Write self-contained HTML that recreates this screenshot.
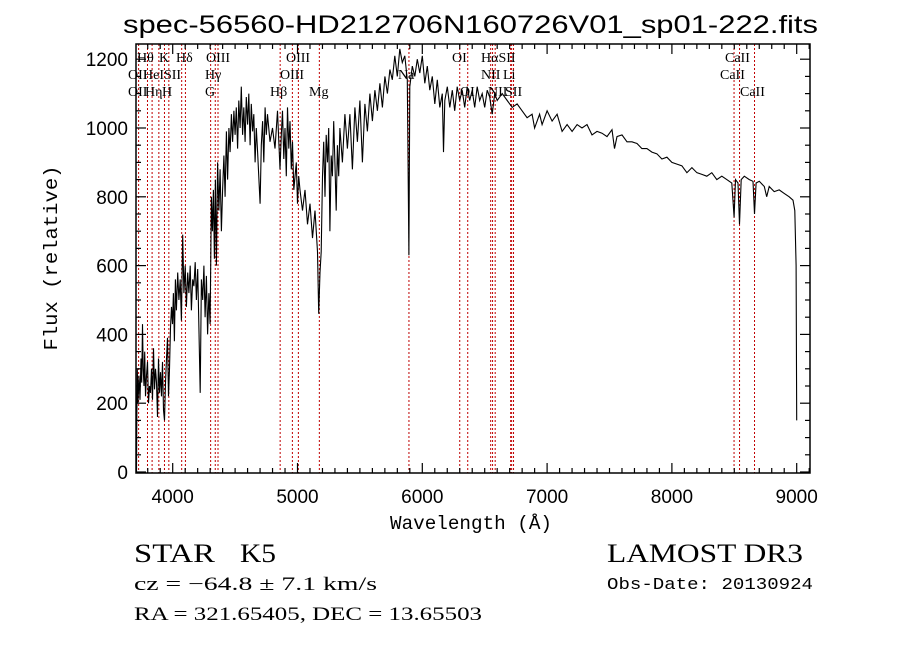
<!DOCTYPE html>
<html><head><meta charset="utf-8"><style>
body{margin:0;background:#fff}
svg{display:block}
</style></head><body>
<svg id="chart" width="900" height="649" viewBox="0 0 900 649" xmlns="http://www.w3.org/2000/svg">
<rect width="900" height="649" fill="#fff"/>
<text x="123" y="33" font-family="Liberation Sans, sans-serif" font-size="25" textLength="695" lengthAdjust="spacingAndGlyphs">spec-56560-HD212706N160726V01_sp01-222.fits</text>
<g id="lines"></g>
<g id="ticks"></g>
<path id="spec" fill="none" stroke="#000" stroke-width="1.1"/>
<rect x="136" y="44" width="674" height="429" fill="none" stroke="#000" stroke-width="1.5"/>
<text transform="translate(57,258) rotate(-90)" text-anchor="middle" font-family="Liberation Mono, monospace" font-size="19" textLength="185" lengthAdjust="spacingAndGlyphs">Flux (relative)</text>
<text x="390" y="529" font-family="Liberation Mono, monospace" font-size="19" textLength="162" lengthAdjust="spacingAndGlyphs">Wavelength (Å)</text>
<text x="134" y="562" font-family="Liberation Serif, serif" font-size="26" textLength="81" lengthAdjust="spacingAndGlyphs">STAR</text>
<text x="240" y="562" font-family="Liberation Serif, serif" font-size="26" textLength="36" lengthAdjust="spacingAndGlyphs">K5</text>
<text x="134" y="590" font-family="Liberation Serif, serif" font-size="19" textLength="243" lengthAdjust="spacingAndGlyphs">cz = −64.8 ± 7.1 km/s</text>
<text x="134" y="620" font-family="Liberation Serif, serif" font-size="19" textLength="348" lengthAdjust="spacingAndGlyphs">RA = 321.65405, DEC =  13.65503</text>
<text x="607" y="562" font-family="Liberation Serif, serif" font-size="26" textLength="196" lengthAdjust="spacingAndGlyphs">LAMOST DR3</text>
<text x="607" y="589" font-family="Liberation Mono, monospace" font-size="17" textLength="206" lengthAdjust="spacingAndGlyphs">Obs-Date: 20130924</text>
</svg>
<script>
const wave=[3710,3712,3716,3722,3730,3738,3746,3752,3758,3764,3770,3776,3782,3790,3798,3806,3814,3822,3830,3838,3846,3854,3862,3870,3878,3886,3894,3902,3910,3918,3926,3934,3942,3950,3958,3966,3974,3982,3990,3998,4006,4014,4022,4030,4040,4050,4060,4070,4080,4090,4100,4110,4120,4130,4140,4150,4160,4170,4180,4190,4200,4210,4220,4230,4240,4250,4260,4270,4280,4290,4300,4310,4318,4326,4334,4342,4350,4360,4370,4380,4390,4400,4410,4420,4430,4440,4450,4460,4470,4480,4490,4500,4510,4520,4530,4540,4550,4560,4570,4580,4590,4600,4610,4620,4630,4640,4650,4660,4670,4680,4700,4710,4720,4730,4740,4750,4760,4780,4800,4820,4840,4860,4870,4880,4890,4900,4910,4920,4930,4940,4950,4960,4970,4990,5000,5010,5020,5040,5060,5080,5100,5120,5140,5160,5170,5180,5190,5200,5210,5220,5230,5240,5250,5260,5270,5280,5290,5300,5310,5320,5330,5340,5360,5380,5400,5420,5440,5460,5480,5500,5520,5540,5560,5580,5600,5620,5640,5660,5680,5700,5720,5740,5760,5780,5800,5820,5840,5860,5880,5893,5900,5920,5940,5960,5980,6000,6020,6040,6060,6080,6100,6120,6140,6160,6170,6180,6200,6220,6240,6260,6280,6300,6320,6340,6360,6380,6400,6420,6440,6460,6480,6500,6520,6540,6560,6580,6600,6640,6680,6720,6760,6800,6840,6880,6900,6940,6960,7000,7040,7080,7120,7160,7200,7240,7280,7320,7360,7400,7440,7480,7520,7540,7560,7600,7640,7680,7720,7760,7800,7840,7880,7920,7960,8000,8040,8080,8120,8160,8200,8240,8280,8320,8360,8400,8440,8480,8498,8510,8530,8542,8555,8580,8620,8650,8662,8675,8700,8740,8760,8780,8820,8860,8900,8940,8970,8985,8995,9000];
const flux=[0,150,300,200,280,210,330,260,430,300,250,350,220,280,320,200,250,230,300,210,360,240,300,260,160,330,230,290,220,320,180,150,260,330,390,220,300,420,480,430,520,380,560,470,580,500,560,440,690,520,600,480,580,520,600,470,560,540,610,500,590,420,230,560,500,600,450,570,400,520,430,800,700,820,620,850,600,900,760,880,700,820,920,800,990,850,1000,930,1040,960,1050,980,1060,940,1080,1000,1120,980,1060,960,1090,1010,1100,950,1070,990,1040,900,1000,930,780,950,1020,900,1060,980,1040,960,1000,940,1050,880,980,1050,910,1000,860,1060,940,1020,880,960,820,900,780,860,820,760,820,720,780,680,760,640,460,580,640,860,960,800,980,900,1000,700,920,860,1020,900,760,950,860,1000,900,1040,940,1040,880,1060,960,1080,900,1070,990,1100,1020,1110,1050,1130,1060,1150,1100,1170,1140,1210,1150,1230,1190,1210,1140,630,1120,1180,1150,1200,1160,1210,1130,1180,1110,1150,1070,1140,1060,1100,930,1080,1120,1060,1110,1050,1120,1080,1110,1060,1120,1080,1110,1060,1120,1080,1100,1060,1110,1090,1040,1100,1080,1100,1080,1060,1070,1050,1030,1040,1000,1040,1010,1050,1020,1040,990,1010,990,1010,1000,1010,980,990,985,975,995,940,975,980,960,960,955,940,940,930,925,910,915,900,895,890,870,885,870,865,860,870,850,860,850,840,740,850,840,720,850,860,850,845,750,840,845,830,800,830,815,820,810,800,790,760,600,150];
const xTickVals=[4000,5000,6000,7000,8000,9000];
const yTickVals=[0,200,400,600,800,1000,1200];
const lineWaves=[3727,3798,3835,3889,3934,3969,4072,4102,4304,4341,4363,4861,4959,5007,5175,5893,6300,6364,6548,6563,6584,6708,6716,6731,8498,8542,8662];
const lineLabels=[["Hθ",137,57],["K",159,57],["Hδ",176,57],["OIII",206,57],["OIII",286,57],["OII",128,74],["HeISII",143,74],["Hγ",205,74],["OIII",280,74],["OII",128,91],["Hη",145,91],["H",162,91],["G",205,91],["Hβ",270,91],["Mg",309,91],["OI",452,57],["HαSII",481,57],["CaII",725,57],["Na",398,74],["NII",481,74],["Li",503,74],["CaII",720,74],["OI",460,91],["NII",488,91],["SII",505,91],["CaII",740,91]];
const X0=136,X1=810,Y0=44,Y1=473;
function xs(w){return 172.7+(w-4000)*0.1248;}
function ys(f){return 472-f*0.344;}
const NS='http://www.w3.org/2000/svg';
let d='';
for(let i=0;i<wave.length;i++){d+=(i?'L':'M')+xs(wave[i]).toFixed(1)+','+Math.max(Y0,ys(flux[i])).toFixed(1);}
document.getElementById('spec').setAttribute('d',d);
const lg=document.getElementById('lines');
lineWaves.forEach(w=>{const l=document.createElementNS(NS,'line');


const x=xs(w);l.setAttribute('x1',x);l.setAttribute('x2',x);l.setAttribute('y1',Y0);l.setAttribute('y2',Y1);
l.setAttribute('stroke','#c00000');l.setAttribute('stroke-width','1');l.setAttribute('stroke-dasharray','2,2');lg.appendChild(l);});
lineLabels.forEach(a=>{const t=document.createElementNS(NS,'text');


t.setAttribute('x',a[1]);t.setAttribute('y',a[2]+5);t.setAttribute('font-family','Liberation Serif, serif');t.setAttribute('font-size','14');t.textContent=a[0];lg.appendChild(t);});
const tg=document.getElementById('ticks');
function ln(x1,y1,x2,y2){const l=document.createElementNS(NS,'line');l.setAttribute('x1',x1);l.setAttribute('y1',y1);l.setAttribute('x2',x2);l.setAttribute('y2',y2);l.setAttribute('stroke','#000');l.setAttribute('stroke-width','1.2');


tg.appendChild(l);}
for(let w=3800;w<=9100;w+=100){const x=xs(w);const L=(w%1000===0)?10:5;ln(x,Y1,x,Y1-L);ln(x,Y0,x,Y0+L);}
for(let f=0;f<=1240;f+=50){const y=ys(f);const L=(f%200===0)?10:5;ln(X0,y,X0+L,y);ln(X1,y,X1-L,y);}
xTickVals.forEach(v=>{const t=document.createElementNS(NS,'text');


t.setAttribute('x',xs(v));t.setAttribute('y',503);t.setAttribute('text-anchor','middle');t.setAttribute('font-family','Liberation Sans, sans-serif');t.setAttribute('font-size','19');t.textContent=v;tg.appendChild(t);});
yTickVals.forEach(v=>{const t=document.createElementNS(NS,'text');


t.setAttribute('x',128);t.setAttribute('y',ys(v)+7);t.setAttribute('text-anchor','end');t.setAttribute('font-family','Liberation Sans, sans-serif');t.setAttribute('font-size','19');t.textContent=v;tg.appendChild(t);});
</script>
</body></html>
